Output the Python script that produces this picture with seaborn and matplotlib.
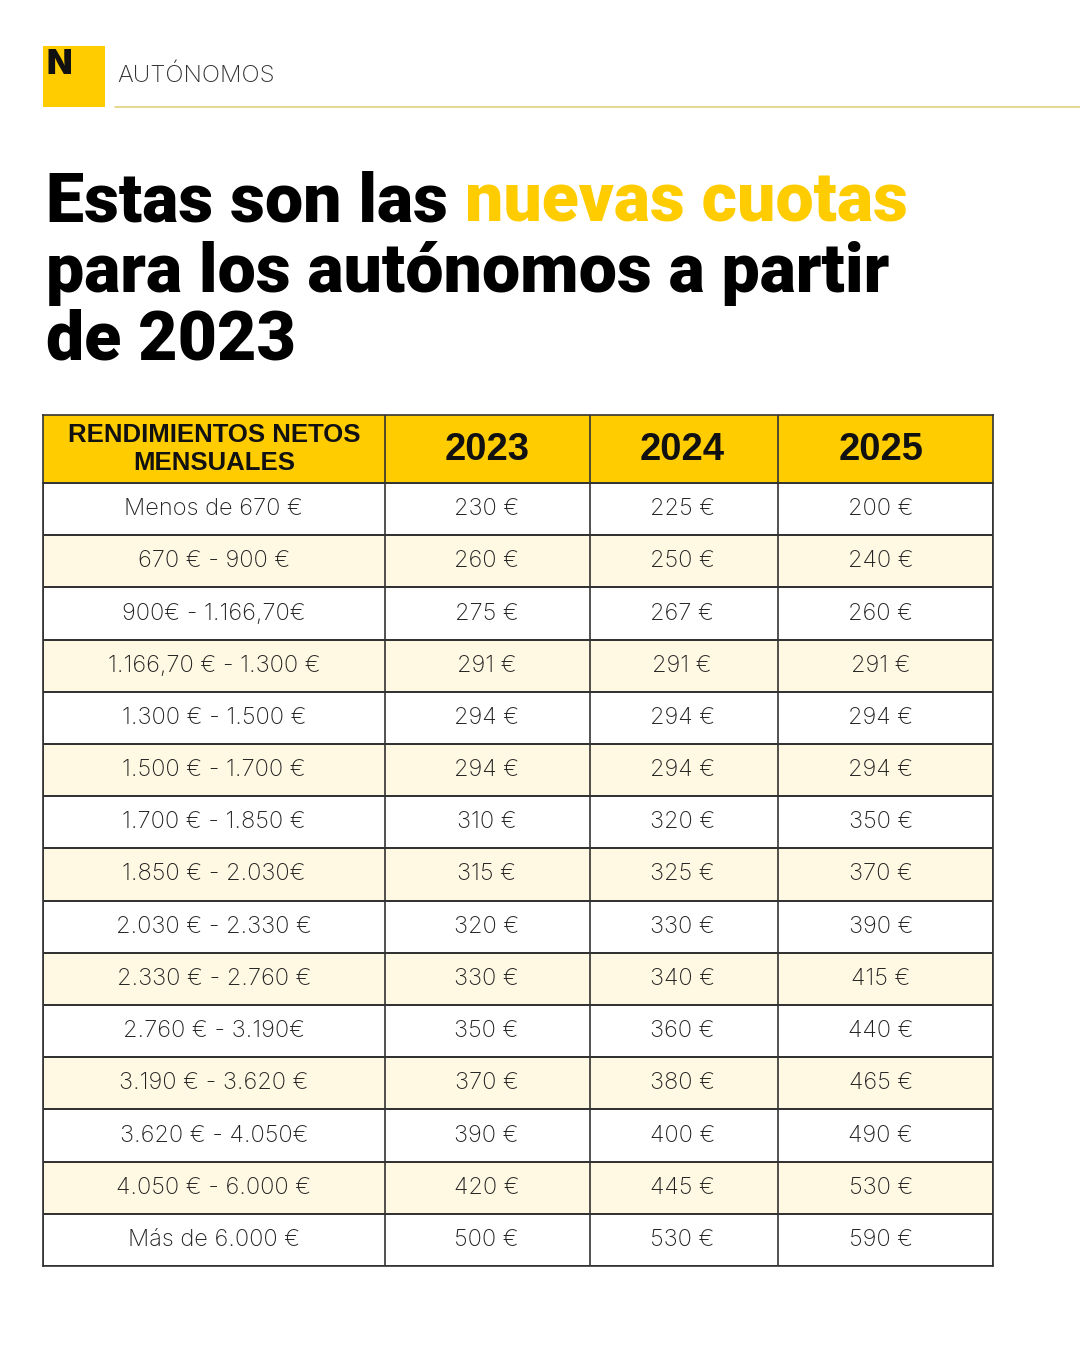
import numpy as np
import pandas as pd
import matplotlib.pyplot as plt
import seaborn as sns
from matplotlib.colors import ListedColormap

tramos = ["Menos de 670 €", "670 € - 900 €", "900€ - 1.166,70€", "1.166,70 € - 1.300 €",
          "1.300 € - 1.500 €", "1.500 € - 1.700 €", "1.700 € - 1.850 €", "1.850 € - 2.030€",
          "2.030 € - 2.330 €", "2.330 € - 2.760 €", "2.760 € - 3.190€", "3.190 € - 3.620 €",
          "3.620 € - 4.050€", "4.050 € - 6.000 €", "Más de 6.000 €"]
cuota_2023 = [230, 260, 275, 291, 294, 294, 310, 315, 320, 330, 350, 370, 390, 420, 500]
cuota_2024 = [225, 250, 267, 291, 294, 294, 320, 325, 330, 340, 360, 380, 400, 445, 530]
cuota_2025 = [200, 240, 260, 291, 294, 294, 350, 370, 390, 415, 440, 465, 490, 530, 590]
years = ["2023", "2024", "2025"]
header_first = "RENDIMIENTOS NETOS\nMENSUALES"

df = pd.DataFrame({"tramo": tramos, "2023": cuota_2023, "2024": cuota_2024, "2025": cuota_2025})

YELLOW = "#FFCC00"
CREAM = "#FFF8E2"
LINE = "#333333"

sns.set_theme(style="white")
plt.rcParams['font.family'] = ['Inter', 'DejaVu Sans']

W, H = 1080, 1350
fig = plt.figure(figsize=(W / 100, H / 100), dpi=100)
fig.patch.set_facecolor("white")


def px_axes(x0, y0, x1, y1):
    return fig.add_axes([x0 / W, 1 - y1 / H, (x1 - x0) / W, (y1 - y0) / H])


# column layout (fractions of table width)
col_edges = [0, 0.36, 0.5758, 0.7737, 1.0]
col_centers = [0.18, 0.467, 0.673, 0.882]

# header
axh = px_axes(43, 415, 993, 483)
sns.heatmap(np.zeros((1, 1)), ax=axh, cmap=ListedColormap([YELLOW]), cbar=False,
            xticklabels=False, yticklabels=False)
for e in col_edges[1:-1]:
    axh.axvline(e, color=LINE, lw=1.2)
for s in axh.spines.values():
    s.set_visible(True)
    s.set_color(LINE)
    s.set_linewidth(1.2)
axh.text(col_centers[0], 0.5, header_first, ha="center", va="center", fontsize=18.5,
         fontweight="bold", color="#111111", linespacing=1.2, family=["Liberation Sans", "DejaVu Sans"])
for c, y in zip(col_centers[1:], years):
    axh.text(c, 0.52, y, ha="center", va="center", fontsize=27.5, fontweight="bold",
             color="#111111", family=["Liberation Sans", "DejaVu Sans"])

# body
axb = px_axes(43, 483, 993, 1266)
stripes = (np.arange(len(df)) % 2).reshape(-1, 1)
sns.heatmap(stripes, ax=axb, cmap=ListedColormap(["white", CREAM]), cbar=False,
            linewidths=1.2, linecolor=LINE, xticklabels=False, yticklabels=False)
for e in col_edges[1:-1]:
    axb.axvline(e, color=LINE, lw=1.2)
for s in axb.spines.values():
    s.set_visible(True)
    s.set_color(LINE)
    s.set_linewidth(1.2)
for i, row in df.iterrows():
    vals = [row["tramo"]] + [f"{row[y]} €" for y in years]
    for c, v in zip(col_centers, vals):
        axb.text(c, i + 0.5, v, ha="center", va="center", fontsize=17,
                 fontweight="light", color="#222222")

# logo and section label
axl = px_axes(43, 46, 105, 107)
axl.set_facecolor(YELLOW)
axl.set_xticks([])
axl.set_yticks([])
for s in axl.spines.values():
    s.set_visible(False)
axl.text(0.05, 0.95, "N", ha="left", va="top", fontsize=24, fontweight="black",
         color="#111111", transform=axl.transAxes)
fig.text(117 / W, 1 - 76 / H, "AUTÓNOMOS", ha="left", va="center", fontsize=17.3,
         fontweight="light", color="#333333")
fig.add_artist(plt.Line2D([115 / W, 1.0], [1 - 107 / H, 1 - 107 / H], color="#E3D27A", lw=1.2))

# title
tfont = dict(fontsize=49, fontweight="black", family=["Roboto", "Liberation Sans", "DejaVu Sans"])
t1 = fig.text(46 / W, 1 - 222 / H, "Estas son las ", ha="left", va="baseline", color="black", **tfont)
fig.canvas.draw()
bb = t1.get_window_extent()
fig.text(bb.x1 / W, 1 - 222 / H, "nuevas cuotas", ha="left", va="baseline", color=YELLOW, **tfont)
fig.text(46 / W, 1 - 292 / H, "para los autónomos a partir", ha="left", va="baseline",
         color="black", **tfont)
fig.text(46 / W, 1 - 360 / H, "de 2023", ha="left", va="baseline", color="black", **tfont)

fig.savefig("out.png", dpi=100, facecolor="white")
